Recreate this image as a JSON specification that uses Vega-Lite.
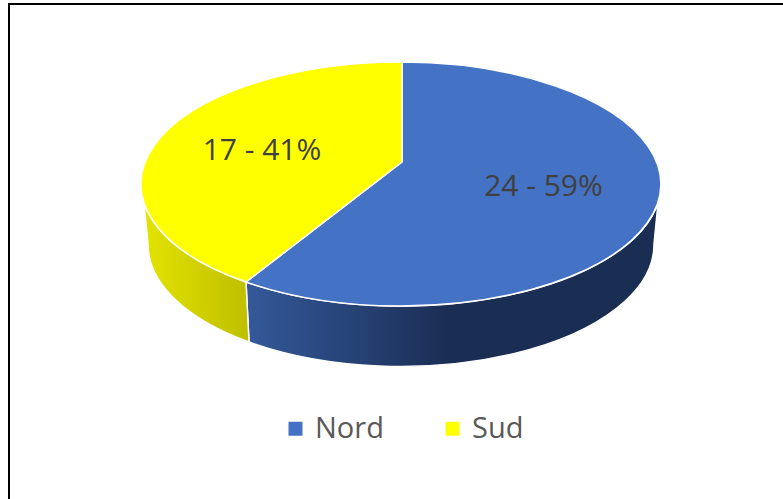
{
  "$schema": "https://vega.github.io/schema/vega-lite/v6.json",
  "width": 786,
  "height": 500,
  "autosize": "none",
  "padding": {"left": 9, "top": 4, "right": 0, "bottom": 0},
  "background": "white",
  "view": {"stroke": "#000000", "strokeWidth": 2, "fill": "white"},
  "data": {"values": [
    {"zone": "Nord", "count": 24, "share": 59, "label": "24 - 59%"},
    {"zone": "Sud", "count": 17, "share": 41, "label": "17 - 41%"}
  ]},
  "layer": [
    {
      "transform": [{"filter": "datum.zone === 'Nord'"}],
      "mark": {"type": "point", "filled": true, "opacity": 1, "size": 4, "stroke": "white", "strokeWidth": 1.5,
        "shape": "M256,-51A260,122,0,0,1,-156,28L-153,88A253,122,0,0,0,252,-10Z",
        "fill": {"gradient": "linear", "x1": 0, "x2": 1, "y1": 0, "y2": 0, "stops": [
          {"offset": 0, "color": "#34599a"},
          {"offset": 0.5, "color": "#1a2d53"},
          {"offset": 1, "color": "#1a2d53"}
        ]}},
      "encoding": {}
    },
    {
      "transform": [{"filter": "datum.zone === 'Sud'"}],
      "mark": {"type": "point", "filled": true, "opacity": 1, "size": 4, "stroke": "white", "strokeWidth": 1.5,
        "shape": "M-156,28A260,122,0,0,1,-258,-51L-254,-10A253,122,0,0,0,-153,88Z",
        "fill": {"gradient": "linear", "x1": 0, "x2": 1, "y1": 0, "y2": 0, "stops": [
          {"offset": 0, "color": "#e3e300"},
          {"offset": 1, "color": "#bfbf00"}
        ]}},
      "encoding": {}
    },
    {
      "transform": [{"filter": "datum.zone === 'Nord'"}],
      "mark": {"type": "point", "filled": true, "opacity": 1, "size": 4, "stroke": "white", "strokeWidth": 1.5,
        "shape": "M0,-92L0,-192A260,122,0,1,1,-156,28Z", "fill": "#4472C4"},
      "encoding": {}
    },
    {
      "transform": [{"filter": "datum.zone === 'Sud'"}],
      "mark": {"type": "point", "filled": true, "opacity": 1, "size": 4, "stroke": "white", "strokeWidth": 1.5,
        "shape": "M0,-92L-156,28A260,122,0,0,1,0,-192Z", "fill": "#FFFF00"},
      "encoding": {}
    },
    {
      "mark": {"type": "point", "filled": true, "opacity": 1, "size": 0, "shape": "square"},
      "encoding": {
        "color": {
          "field": "zone", "type": "nominal",
          "scale": {"domain": ["Nord", "Sud"], "range": ["#4472C4", "#FFFF00"]},
          "legend": {
            "title": null, "orient": "none", "direction": "horizontal", "columns": 2,
            "legendX": 272, "legendY": 410,
            "symbolType": "square", "symbolSize": 196, "symbolStrokeWidth": 0,
            "labelFont": "Open Sans", "labelFontSize": 29, "labelColor": "#595959",
            "labelOffset": 5, "columnPadding": 54, "padding": 0
          }
        }
      }
    },
    {
      "mark": {"type": "text", "font": "Open Sans", "fontSize": 30, "color": "#404040", "align": "center", "baseline": "middle"},
      "encoding": {
        "text": {"field": "label", "type": "nominal"},
        "x": {"field": "zone", "type": "nominal", "scale": {"type": "point", "padding": 0, "domain": ["Nord", "Sud"], "range": [534.5, 253]}, "axis": null},
        "y": {"field": "zone", "type": "nominal", "scale": {"type": "point", "padding": 0, "domain": ["Nord", "Sud"], "range": [183, 147]}, "axis": null}
      }
    }
  ]
}
